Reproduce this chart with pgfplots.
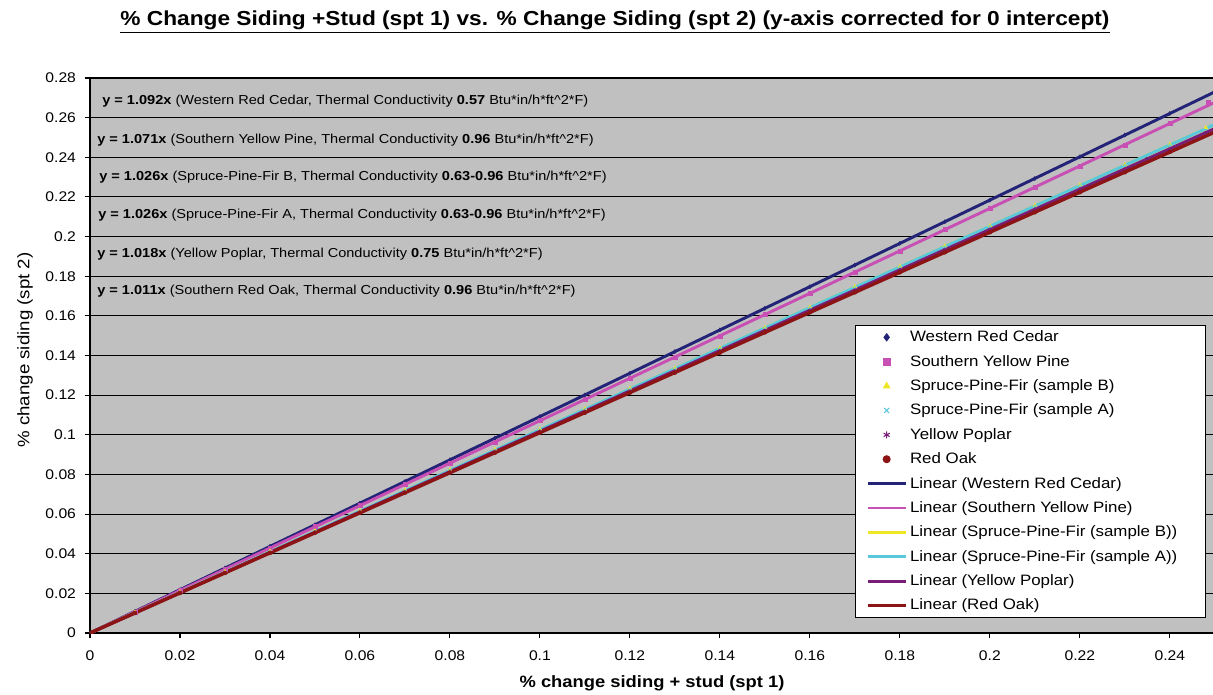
\documentclass[border=0pt]{standalone}
\usepackage{pgfplots}
\pgfplotsset{compat=1.18}
\usepackage{fontspec}
\setmainfont{Liberation Sans}[FakeStretch=1.12]
\definecolor{bggray}{RGB}{192,192,192}
\definecolor{cwrc}{RGB}{35,35,120}
\definecolor{csyp}{RGB}{200,80,180}
\definecolor{cspfb}{RGB}{240,230,40}
\definecolor{cspfa}{RGB}{90,200,220}
\definecolor{cyp}{RGB}{120,30,120}
\definecolor{cro}{RGB}{140,20,20}
\begin{document}
\begin{tikzpicture}
\useasboundingbox (-67.5pt,-45.75pt) rectangle (842.25pt,474.75pt);
\begin{axis}[
  at={(0pt,0pt)}, anchor=south west,
  scale only axis, width=842.25pt, height=416.25pt,
  xmin=0, xmax=0.2496, ymin=0, ymax=0.28,
  xtick={0,0.02,0.04,0.06,0.08,0.1,0.12,0.14,0.16,0.18,0.2,0.22,0.24},
  ytick={0,0.02,0.04,0.06,0.08,0.1,0.12,0.14,0.16,0.18,0.2,0.22,0.24,0.26,0.28},
  scaled ticks=false,
  /pgf/number format/fixed, /pgf/number format/precision=2,
  /pgf/number format/assume math mode=true,
  ticklabel style={font=\fontsize{10.5}{12}\selectfont},
  xticklabel style={yshift=-6pt},
  yticklabel style={xshift=-3pt},
  axis background/.style={fill=bggray},
  ymajorgrids, grid style={black, line width=0.8pt},
  axis x line*=bottom, axis y line*=left,
  axis line style={black, line width=0.8pt, -},
  tick style={black, line width=0.8pt},
  tick align=outside, major tick length=4pt,
  legend cell align=left,
  legend image code/.code={\draw[mark repeat=2,mark phase=2] plot coordinates {(0cm,0cm) (0.5cm,0cm) (1.0cm,0cm)};},
  every legend image post/.style={mark size=2.6pt},
  legend style={at={(rel axis cs:0.681,0.555)}, anchor=north west, draw=black, line width=0.8pt, fill=white,
    font=\fontsize{11.3}{13}\selectfont, row sep=4.6pt, inner xsep=8pt, inner ysep=2pt},
]
% scatter data
\addplot[only marks, mark=diamond*, mark size=1.5pt, color=cwrc] coordinates {
(0.01,0.0109)(0.02,0.0218)(0.03,0.0328)(0.04,0.0437)(0.05,0.0546)(0.06,0.0655)(0.07,0.0764)(0.08,0.0874)(0.09,0.0983)(0.10,0.1092)
(0.11,0.1201)(0.12,0.1310)(0.13,0.1420)(0.14,0.1529)(0.15,0.1638)(0.16,0.1747)(0.17,0.1856)(0.18,0.1966)(0.19,0.2075)(0.20,0.2184)
(0.21,0.2293)(0.22,0.2402)(0.23,0.2512)(0.24,0.2621)(0.25,0.2730)};
\addlegendentry{Western Red Cedar}
\addplot[only marks, mark=square*, mark size=1.5pt, color=csyp] coordinates {
(0.01,0.0107)(0.02,0.0214)(0.03,0.0321)(0.04,0.0428)(0.05,0.0536)(0.06,0.0643)(0.07,0.0750)(0.08,0.0857)(0.09,0.0964)(0.10,0.1071)
(0.11,0.1178)(0.12,0.1285)(0.13,0.1392)(0.14,0.1499)(0.15,0.1607)(0.16,0.1714)(0.17,0.1821)(0.18,0.1928)(0.19,0.2035)(0.20,0.2142)
(0.21,0.2249)(0.22,0.2356)(0.23,0.2463)(0.24,0.2570)(0.2485,0.2680)};
\addlegendentry{Southern Yellow Pine}
\addplot[only marks, mark=triangle*, mark size=1.5pt, color=cspfb] coordinates {
(0.01,0.0106)(0.02,0.0209)(0.03,0.0311)(0.04,0.0414)(0.05,0.0516)(0.06,0.0619)(0.07,0.0722)(0.08,0.0824)(0.09,0.0927)(0.10,0.1029)
(0.11,0.1132)(0.12,0.1235)(0.13,0.1337)(0.14,0.1440)(0.15,0.1542)(0.16,0.1645)(0.17,0.1748)(0.18,0.1850)(0.19,0.1953)(0.20,0.2055)
(0.21,0.2158)(0.22,0.2261)(0.23,0.2363)(0.24,0.2466)(0.248,0.2550)};
\addlegendentry{Spruce-Pine-Fir (sample B)}
\addplot[only marks, mark=x, mark size=1.5pt, color=cspfa] coordinates {
(0.01,0.0103)(0.02,0.0205)(0.03,0.0308)(0.04,0.0410)(0.05,0.0513)(0.06,0.0616)(0.07,0.0718)(0.08,0.0821)(0.09,0.0923)(0.10,0.1026)
(0.11,0.1129)(0.12,0.1231)(0.13,0.1334)(0.14,0.1436)(0.15,0.1539)(0.16,0.1642)(0.17,0.1744)(0.18,0.1847)(0.19,0.1949)(0.20,0.2052)
(0.21,0.2155)(0.22,0.2257)(0.23,0.2360)(0.24,0.2462)(0.249,0.2560)};
\addlegendentry{Spruce-Pine-Fir (sample A)}
\addplot[only marks, mark=asterisk, mark size=1.5pt, color=cyp] coordinates {
(0.01,0.0102)(0.02,0.0204)(0.03,0.0305)(0.04,0.0407)(0.05,0.0509)(0.06,0.0611)(0.07,0.0713)(0.08,0.0814)(0.09,0.0916)(0.10,0.1018)
(0.11,0.1120)(0.12,0.1222)(0.13,0.1323)(0.14,0.1425)(0.15,0.1527)(0.16,0.1629)(0.17,0.1731)(0.18,0.1832)(0.19,0.1934)(0.20,0.2036)
(0.21,0.2138)(0.22,0.2240)(0.23,0.2341)(0.24,0.2443)(0.248,0.2525)};
\addlegendentry{Yellow Poplar}
\addplot[only marks, mark=*, mark size=1.5pt, color=cro] coordinates {
(0.01,0.0101)(0.02,0.0202)(0.03,0.0303)(0.04,0.0404)(0.05,0.0506)(0.06,0.0607)(0.07,0.0708)(0.08,0.0809)(0.09,0.0910)(0.10,0.1011)
(0.11,0.1112)(0.12,0.1213)(0.13,0.1314)(0.14,0.1415)(0.15,0.1517)(0.16,0.1618)(0.17,0.1719)(0.18,0.1820)(0.19,0.1921)(0.20,0.2022)
(0.21,0.2123)(0.22,0.2224)(0.23,0.2325)(0.24,0.2427)(0.25,0.2528)};
\addlegendentry{Red Oak}
% trend lines
\addplot[no marks, color=cwrc, line width=2.2pt] coordinates {(0,0)(0.25,0.2730)};
\addlegendentry{Linear (Western Red Cedar)}
\addplot[no marks, color=csyp, line width=2.2pt] coordinates {(0,0)(0.25,0.26775)};
\addlegendentry{Linear (Southern Yellow Pine)}
\addplot[no marks, color=cspfb, line width=2.2pt] coordinates {(0,0)(0.25,0.2565)};
\addlegendentry{Linear (Spruce-Pine-Fir (sample B))}
\addplot[no marks, color=cspfa, line width=2.2pt] coordinates {(0,0)(0.25,0.2565)};
\addlegendentry{Linear (Spruce-Pine-Fir (sample A))\hspace*{11pt}}
\addplot[no marks, color=cyp, line width=2.2pt] coordinates {(0,0)(0.25,0.2545)};
\addlegendentry{Linear (Yellow Poplar)}
\addplot[no marks, color=cro, line width=2.6pt] coordinates {(0,0)(0.25,0.25275)};
\addlegendentry{Linear (Red Oak)}
% equations
\begin{scope}[every node/.style={anchor=west, inner sep=0pt, font=\fontsize{9.75}{11}\selectfont}]
\node at (axis cs:0.00267,0.2684) {\textbf{y = 1.092x} (Western Red Cedar, Thermal Conductivity \textbf{0.57} Btu*in/h*ft\textasciicircum2*F)};
\node at (axis cs:0.00156,0.2487) {\textbf{y = 1.071x} (Southern Yellow Pine, Thermal Conductivity \textbf{0.96} Btu*in/h*ft\textasciicircum2*F)};
\node at (axis cs:0.0020,0.2301) {\textbf{y = 1.026x} (Spruce-Pine-Fir B, Thermal Conductivity \textbf{0.63-0.96} Btu*in/h*ft\textasciicircum2*F)};
\node at (axis cs:0.00178,0.2109) {\textbf{y = 1.026x} (Spruce-Pine-Fir A, Thermal Conductivity \textbf{0.63-0.96} Btu*in/h*ft\textasciicircum2*F)};
\node at (axis cs:0.00156,0.1912) {\textbf{y = 1.018x} (Yellow Poplar, Thermal Conductivity \textbf{0.75} Btu*in/h*ft\textasciicircum2*F)};
\node at (axis cs:0.00156,0.1726) {\textbf{y = 1.011x} (Southern Red Oak, Thermal Conductivity \textbf{0.96} Btu*in/h*ft\textasciicircum2*F)};
\end{scope}
\end{axis}
\node[font=\bfseries\fontsize{15.2}{17}\selectfont] at (393.75pt,458.25pt) {\underline{\% Change Siding +Stud (spt 1) vs. \% Change Siding (spt 2) (y-axis corrected for 0 intercept)}};
\node[font=\bfseries\fontsize{12.3}{14}\selectfont] at (421.5pt,-37.5pt) {\% change siding + stud (spt 1)};
\node[font=\fontsize{12.5}{14}\selectfont, rotate=90] at (-48.75pt,212.25pt) {\% change siding (spt 2)};
\end{tikzpicture}
\end{document}
